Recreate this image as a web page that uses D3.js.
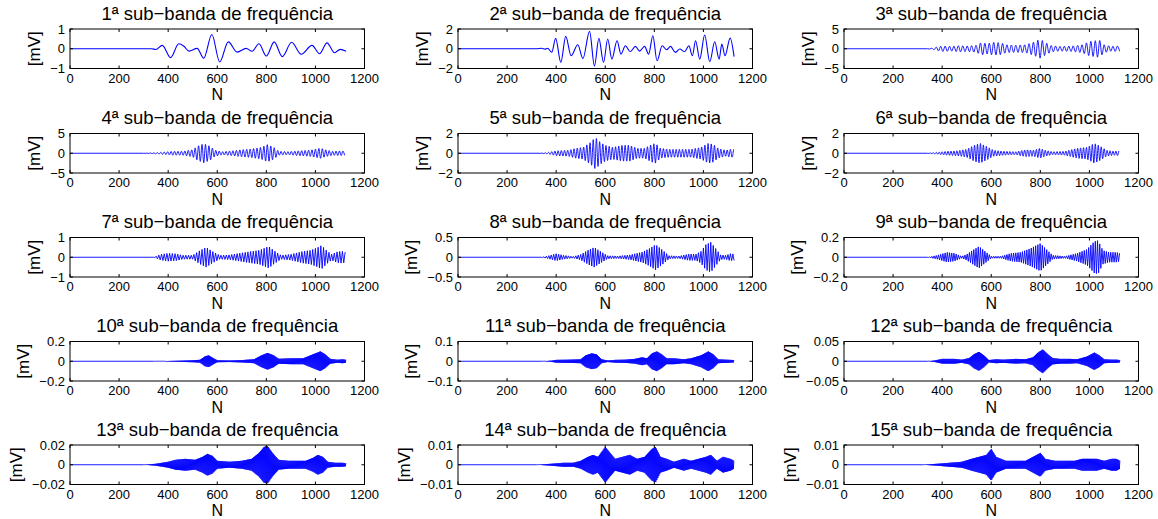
<!DOCTYPE html>
<html><head><meta charset="utf-8">
<script src="https://cdn.jsdelivr.net/npm/d3@7"></script>
<style>
  body { margin: 0; background: #fff; }
  svg text { font-family: "Liberation Sans", Arial, Helvetica, sans-serif; fill: #000; }
</style></head>
<body>
<svg id="fig" width="1158" height="519"></svg>
<script>
// ---- shared axis data ----
const xTicks = [0, 200, 400, 600, 800, 1000, 1200];
const xDomain = [0, 1200];
const yLimits = [1, 2, 5, 5, 2, 2, 1, 0.5, 0.2, 0.2, 0.1, 0.05, 0.02, 0.01, 0.01];
const bandNumbers = d3.range(1, 16);
const signalEnd = 1125;

// ---- bands 1 and 2: successive turning points [N, mV] ----
const band1Extrema = [[0,0],[332,0],[350,-0.04],[376,0.17],[410,-0.45],[443,0.25],[464,0.13],[485,-0.12],[518,0.02],[545,-0.48],[578,0.72],[610,-0.67],[645,0.35],[681,-0.17],[718,0.02],[742,-0.13],[770,0.25],[800,-0.37],[832,0.35],[865,-0.4],[903,0.33],[942,-0.28],[986,0.17],[1017,-0.25],[1047,0.3],[1078,-0.2],[1101,-0.03],[1125,-0.13]];
const band2Extrema = [[0,0],[320,0],[340,0.05],[355,-0.04],[365,0.05],[382,-0.35],[398,1.05],[419,-1.39],[439,1.25],[461,-0.71],[488,0.4],[509,-1.0],[536,1.76],[556,-1.73],[574,1.05],[593,-1.39],[610,0.98],[627,-1.05],[648,0.81],[664,-0.54],[682,0.3],[702,-0.3],[723,0.24],[740,-0.24],[760,0.24],[777,-0.54],[794,1.32],[811,-1.22],[832,0.3],[850,-0.1],[866,0.24],[886,-0.37],[904,-0.03],[923,-0.3],[941,0.3],[955,-0.71],[968,0.81],[985,-1.05],[1005,1.39],[1026,-1.32],[1046,0.71],[1064,-1.05],[1075,0.47],[1088,-0.71],[1109,1.08],[1125,-0.8]];

// ---- bands 3..15: oscillation envelope [N, peak mV] ----
const band3Envelope = [[340,0],[360,0.15],[380,0.5],[400,0.7],[440,0.6],[470,0.8],[500,0.7],[540,0.9],[560,1.6],[580,1.3],[610,1.6],[640,1.5],[660,1.0],[700,0.9],[740,1.0],[770,1.6],[800,2.4],[820,1.6],[845,0.8],[880,0.6],[930,0.7],[970,1.0],[1000,1.8],[1040,2.2],[1060,1.0],[1090,0.6],[1110,0.7],[1125,0.6]];
const band4Envelope = [[300,0],[340,0.1],[380,0.3],[420,0.5],[460,0.5],[500,0.9],[520,1.8],[545,2.4],[570,1.8],[590,0.8],[620,0.4],[660,0.6],[700,0.9],[740,1.1],[780,1.5],[805,2.2],[830,1.5],[850,0.5],[890,0.4],[930,0.6],[980,0.8],[1020,1.3],[1040,0.9],[1070,0.5],[1100,0.6],[1125,0.5]];
const band5Envelope = [[330,0],[360,0.05],[400,0.25],[450,0.3],[480,0.5],[510,0.6],[540,1.1],[560,1.6],[580,1.1],[600,0.8],[630,0.6],[670,0.8],[700,0.8],[730,0.5],[760,0.5],[790,0.9],[805,1.0],[825,0.5],[860,0.4],[900,0.4],[950,0.4],[990,0.6],[1020,1.0],[1040,0.9],[1060,0.5],[1090,0.3],[1110,0.4],[1125,0.4]];
const band6Envelope = [[340,0],[380,0.1],[420,0.2],[460,0.25],[500,0.4],[530,0.8],[555,1.0],[580,0.7],[610,0.3],[650,0.2],[700,0.15],[740,0.35],[770,0.3],[800,0.5],[820,0.3],[850,0.15],[900,0.2],[950,0.5],[990,0.6],[1020,1.0],[1045,0.7],[1070,0.3],[1100,0.2],[1125,0.25]];
const band7Envelope = [[340,0],[370,0.15],[400,0.2],[430,0.18],[460,0.1],[500,0.1],[530,0.35],[555,0.5],[580,0.3],[610,0.1],[650,0.12],[700,0.22],[740,0.3],[770,0.35],[800,0.5],[810,0.55],[830,0.35],[860,0.1],[900,0.15],[950,0.3],[980,0.35],[1010,0.5],[1025,0.6],[1045,0.35],[1065,0.15],[1090,0.28],[1110,0.3],[1125,0.25]];
const band8Envelope = [[340,0],[370,0.04],[400,0.09],[430,0.05],[470,0.02],[500,0.07],[530,0.18],[555,0.25],[580,0.15],[610,0.04],[650,0.03],[700,0.06],[750,0.13],[780,0.22],[805,0.32],[830,0.2],[860,0.04],[900,0.03],[940,0.08],[970,0.08],[990,0.15],[1010,0.32],[1030,0.38],[1050,0.22],[1070,0.06],[1090,0.05],[1110,0.09],[1125,0.08]];
const band9Envelope = [[340,0],[380,0.02],[420,0.05],[450,0.04],[480,0.01],[500,0.03],[530,0.08],[550,0.11],[575,0.06],[600,0.01],[640,0.01],[680,0.04],[720,0.05],[760,0.09],[800,0.14],[825,0.08],[850,0.02],[900,0.01],[950,0.04],[990,0.08],[1020,0.16],[1035,0.17],[1055,0.07],[1080,0.05],[1110,0.05],[1125,0.04]];
const band10Envelope = [[340,0],[400,0.003],[450,0.006],[500,0.01],[530,0.015],[550,0.05],[565,0.06],[585,0.03],[600,0.01],[650,0.008],[700,0.012],[750,0.02],[780,0.06],[805,0.085],[830,0.06],[850,0.025],[900,0.03],[950,0.03],[990,0.07],[1020,0.1],[1040,0.07],[1060,0.025],[1090,0.015],[1110,0.02],[1125,0.015]];
const band11Envelope = [[340,0],[380,0.003],[400,0.007],[450,0.008],[500,0.01],[520,0.03],[545,0.04],[565,0.035],[585,0.01],[610,0.004],[640,0.007],[680,0.008],[720,0.012],[750,0.02],[770,0.015],[790,0.04],[810,0.05],[830,0.035],[850,0.015],[880,0.015],[920,0.01],[950,0.015],[990,0.03],[1020,0.05],[1040,0.035],[1060,0.01],[1090,0.008],[1110,0.007],[1125,0.006]];
const band12Envelope = [[340,0],[370,0.002],[400,0.006],[450,0.006],[480,0.004],[510,0.008],[530,0.018],[550,0.024],[570,0.015],[590,0.003],[620,0.005],[650,0.004],[700,0.006],[740,0.005],[770,0.01],[790,0.022],[810,0.03],[830,0.018],[850,0.008],[880,0.006],[920,0.006],[950,0.005],[990,0.012],[1020,0.022],[1040,0.015],[1060,0.005],[1090,0.004],[1110,0.004],[1125,0.003]];
const band13Envelope = [[300,0],[350,0.001],[400,0.003],[430,0.005],[470,0.006],[510,0.005],[540,0.008],[560,0.011],[580,0.009],[600,0.004],[650,0.003],[700,0.004],[740,0.006],[770,0.012],[790,0.018],[805,0.019],[825,0.012],[850,0.005],[890,0.004],[930,0.004],[960,0.004],[990,0.007],[1010,0.01],[1030,0.008],[1050,0.003],[1080,0.002],[1110,0.002],[1125,0.0015]];
const band14Envelope = [[320,0],[380,0.0005],[430,0.001],[470,0.001],[500,0.002],[530,0.004],[550,0.005],[570,0.004],[600,0.009],[620,0.006],[640,0.003],[670,0.004],[700,0.005],[730,0.003],[760,0.004],[790,0.008],[805,0.009],[825,0.004],[850,0.003],[880,0.0015],[920,0.003],[950,0.002],[980,0.003],[1010,0.004],[1030,0.005],[1055,0.002],[1080,0.004],[1110,0.003],[1125,0.002]];
const band15Envelope = [[320,0],[380,0.0005],[430,0.001],[480,0.0015],[520,0.003],[550,0.004],[580,0.005],[600,0.008],[620,0.004],[660,0.002],[700,0.002],[740,0.002],[770,0.004],[800,0.006],[820,0.003],[860,0.002],[900,0.002],[940,0.002],[970,0.003],[1000,0.003],[1030,0.003],[1060,0.002],[1090,0.003],[1110,0.003],[1125,0.002]];

// samples between successive crests/troughs of each oscillating band
const halfCycle = [null, null, 9, 7, 6.5, 6, 5.5, 5, 4.5, 2, 2, 2, 2, 2, 2];

const envelopes = [null, null, band3Envelope, band4Envelope, band5Envelope, band6Envelope,
  band7Envelope, band8Envelope, band9Envelope, band10Envelope, band11Envelope,
  band12Envelope, band13Envelope, band14Envelope, band15Envelope];
const extrema = [band1Extrema, band2Extrema];

// ---- layout ----
const colLeft = [70, 458, 844];
const rowTop = [29, 133.5, 237.5, 341.5, 445];
const axW = 294.5, axH = 39.5;
const tickLen = 3;
const lineColor = "#0000ff";

const svg = d3.select("#fig");
const defs = svg.append("defs");
const fmt = v => (v < 0 ? "\u2212" : "") + String(+Math.abs(v).toPrecision(6));

// the trace of one band as [N, mV] points
function bandPoints(i) {
  if (i < 2) return extrema[i];
  const env = envelopes[i];
  const amp = d3.scaleLinear().domain(env.map(d => d[0])).range(env.map(d => d[1])).clamp(true);
  const pts = [[0, 0]];
  const step = halfCycle[i];
  let sign = 1;
  for (let n = env[0][0]; n <= signalEnd; n += step) {
    pts.push([n, sign * amp(n)]);
    sign = -sign;
  }
  return pts;
}

bandNumbers.forEach((b, i) => {
  const col = i % 3, row = Math.floor(i / 3);
  const left = colLeft[col], top = rowTop[row];
  const lim = yLimits[i];
  const x = d3.scaleLinear().domain(xDomain).range([left, left + axW]);
  const y = d3.scaleLinear().domain([-lim, lim]).range([top + axH, top]);
  const yTicks = [-lim, 0, lim];
  const g = svg.append("g");

  // clip region for the trace
  const cid = "clip" + b;
  defs.append("clipPath").attr("id", cid).append("rect")
    .attr("x", left).attr("y", top).attr("width", axW).attr("height", axH);

  // trace
  const line = d3.line().x(d => x(d[0])).y(d => y(d[1]))
    .curve(i < 6 ? d3.curveMonotoneX : d3.curveLinear);
  g.append("path")
    .attr("clip-path", `url(#${cid})`)
    .attr("d", line(bandPoints(i)))
    .attr("fill", "none")
    .attr("stroke", lineColor)
    .attr("stroke-width", i < 2 ? 1.1 : 0.9)
    .attr("stroke-linejoin", "round");

  // box
  g.append("rect").attr("x", left).attr("y", top).attr("width", axW).attr("height", axH)
    .attr("fill", "none").attr("stroke", "#000").attr("stroke-width", 1);

  // x ticks (inside, bottom and top) and labels
  xTicks.forEach(t => {
    const px = x(t);
    g.append("line").attr("x1", px).attr("x2", px).attr("y1", top + axH).attr("y2", top + axH - tickLen)
      .attr("stroke", "#000");
    g.append("line").attr("x1", px).attr("x2", px).attr("y1", top).attr("y2", top + tickLen)
      .attr("stroke", "#000");
    g.append("text").attr("x", px).attr("y", top + axH + 14)
      .attr("text-anchor", "middle").attr("font-size", 13).text(fmt(t));
  });

  // y ticks (inside, left and right) and labels
  let maxW = 0;
  yTicks.forEach(t => {
    const py = y(t);
    g.append("line").attr("x1", left).attr("x2", left + tickLen).attr("y1", py).attr("y2", py)
      .attr("stroke", "#000");
    g.append("line").attr("x1", left + axW).attr("x2", left + axW - tickLen).attr("y1", py).attr("y2", py)
      .attr("stroke", "#000");
    const tx = g.append("text").attr("x", left - 5).attr("y", py + 4.5)
      .attr("text-anchor", "end").attr("font-size", 13).text(fmt(t));
    maxW = Math.max(maxW, tx.node().getComputedTextLength());
  });

  // axis labels and title
  const yl = left - 5 - maxW - 10;
  g.append("text").attr("transform", `translate(${yl},${top + axH / 2}) rotate(-90)`)
    .attr("text-anchor", "middle").attr("font-size", 17).text("[mV]");
  g.append("text").attr("x", left + axW / 2).attr("y", top + axH + 31.5)
    .attr("text-anchor", "middle").attr("font-size", 16).text("N");
  g.append("text").attr("x", left + axW / 2).attr("y", top - 9.5)
    .attr("text-anchor", "middle").attr("font-size", 18.5)
    .text(`${b}\u00aa sub\u2212banda de frequ\u00eancia`);
});
</script>
</body></html>
